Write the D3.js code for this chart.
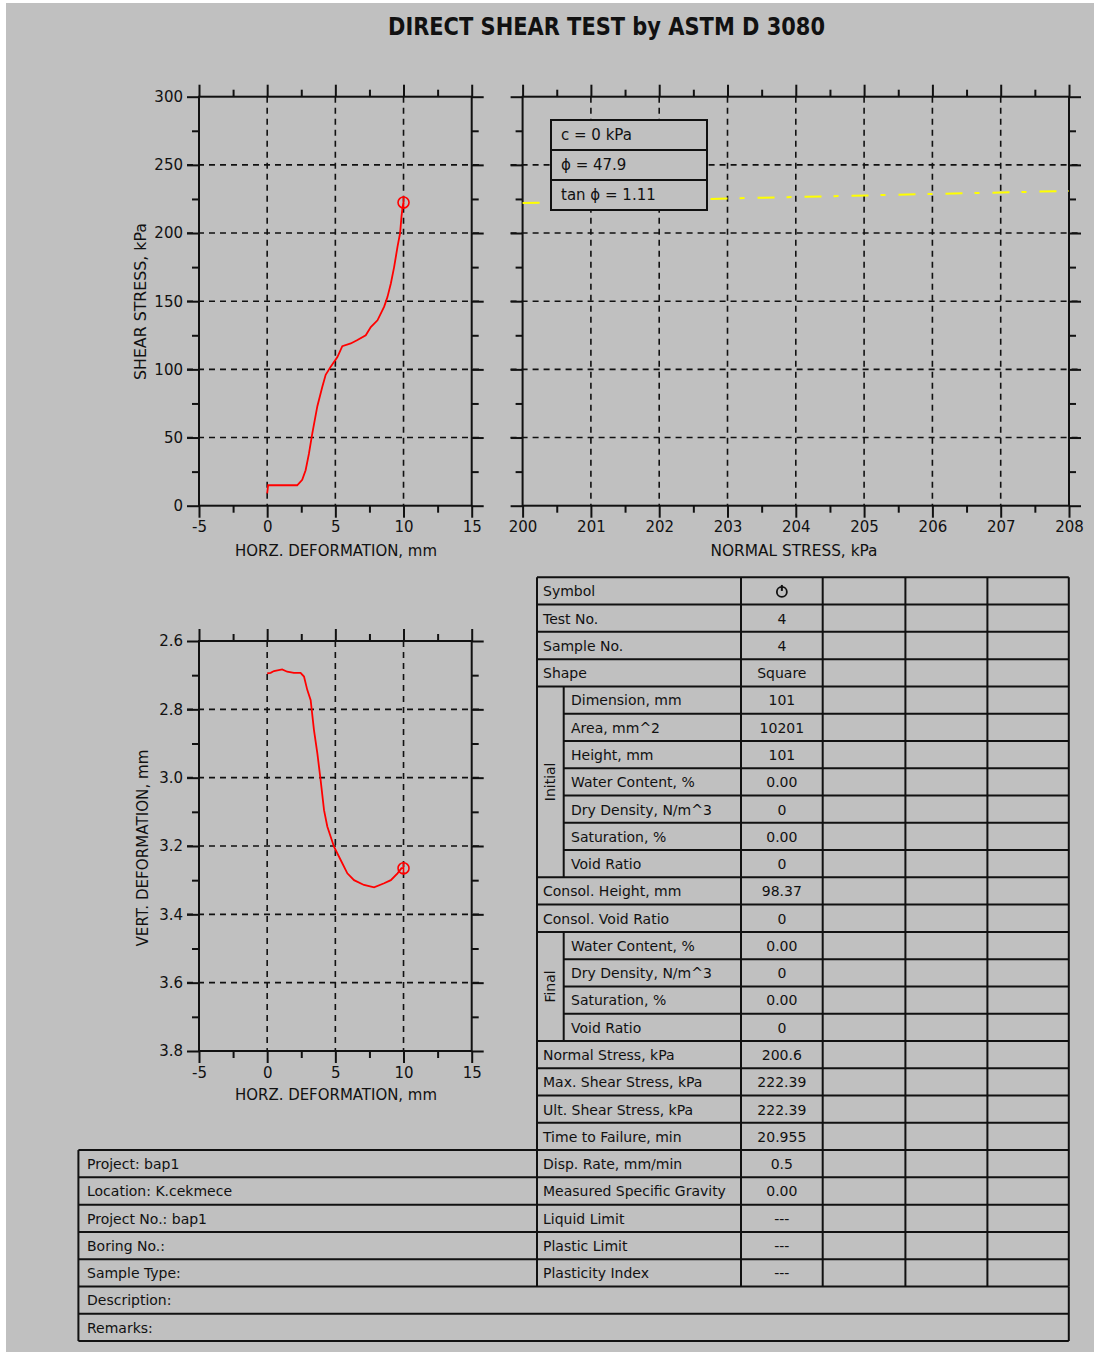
<!DOCTYPE html>
<html>
<head>
<meta charset="utf-8">
<script src="https://cdn.jsdelivr.net/npm/d3@7"></script>
<style>
  html, body { margin: 0; padding: 0; background: #ffffff; }
  svg { display: block; }
  text { font-family: "DejaVu Sans", "Liberation Sans", sans-serif; fill: #111; }
</style>
</head>
<body>
<svg id="sheet" width="1094" height="1352"></svg>
<script>
// ---- Test data -------------------------------------------------------
// Shear stress (kPa) vs horizontal deformation (mm)
const shearDefX = [0, 0.07, 2.2, 2.57, 2.82, 3.06, 3.31, 3.68, 4.04, 4.29, 4.66, 5.15, 5.51, 6.13, 6.62, 7.23, 7.6, 8.09, 8.58, 8.82, 9.07, 9.31, 9.56, 9.75, 9.85, 9.93, 10.0];
const shearStress = [9, 15, 15, 19, 26, 38, 53, 73, 87, 96, 102, 109, 117, 119, 121.5, 125, 131, 136, 146, 153, 163, 175, 190, 200, 212, 219, 222.39];

// Vertical deformation (mm) vs horizontal deformation (mm)
const vertDefX = [0, 0.25, 0.5, 1.1, 1.47, 1.96, 2.45, 2.7, 2.94, 3.19, 3.43, 3.68, 3.92, 4.17, 4.41, 4.9, 5.39, 5.88, 6.37, 7.1, 7.84, 8.58, 9.07, 9.56, 9.85, 10.0];
const vertDef = [2.695, 2.693, 2.688, 2.683, 2.69, 2.693, 2.693, 2.704, 2.743, 2.773, 2.86, 2.929, 3.007, 3.095, 3.143, 3.202, 3.241, 3.28, 3.3, 3.314, 3.321, 3.309, 3.3, 3.28, 3.265, 3.265];

// Failure point and strength parameters
const failureDefX = 10.0;
const failureVert = 3.265;
const normalStress = 200.6;
const maxShear = 222.39;
const cohesion = 0;
const phiDeg = 47.9;
const tanPhi = 1.11;

// Axis ticks
const defTicks = [-5, 0, 5, 10, 15];
const defMinor = [-2.5, 2.5, 7.5, 12.5];
const shearTicks = [0, 50, 100, 150, 200, 250, 300];
const shearMinor = [25, 75, 125, 175, 225, 275];
const normalTicks = [200, 201, 202, 203, 204, 205, 206, 207, 208];
const normalMinor = [200.5, 201.5, 202.5, 203.5, 204.5, 205.5, 206.5, 207.5];
const vertTicks = [2.6, 2.8, 3.0, 3.2, 3.4, 3.6, 3.8];
const vertMinor = [2.7, 2.9, 3.1, 3.3, 3.5, 3.7];

// Specimen table: [label, value, group]
const tableRows = [
  ["Symbol", "", ""],
  ["Test No.", "4", ""],
  ["Sample No.", "4", ""],
  ["Shape", "Square", ""],
  ["Dimension, mm", "101", "Initial"],
  ["Area, mm^2", "10201", "Initial"],
  ["Height, mm", "101", "Initial"],
  ["Water Content, %", "0.00", "Initial"],
  ["Dry Density, N/m^3", "0", "Initial"],
  ["Saturation, %", "0.00", "Initial"],
  ["Void Ratio", "0", "Initial"],
  ["Consol. Height, mm", "98.37", ""],
  ["Consol. Void Ratio", "0", ""],
  ["Water Content, %", "0.00", "Final"],
  ["Dry Density, N/m^3", "0", "Final"],
  ["Saturation, %", "0.00", "Final"],
  ["Void Ratio", "0", "Final"],
  ["Normal Stress, kPa", "200.6", ""],
  ["Max. Shear Stress, kPa", "222.39", ""],
  ["Ult. Shear Stress, kPa", "222.39", ""],
  ["Time to Failure, min", "20.955", ""],
  ["Disp. Rate, mm/min", "0.5", ""],
  ["Measured Specific Gravity", "0.00", ""],
  ["Liquid Limit", "---", ""],
  ["Plastic Limit", "---", ""],
  ["Plasticity Index", "---", ""]
];
const projectInfo = ["Project: bap1", "Location: K.cekmece", "Project No.: bap1", "Boring No.:", "Sample Type:"];
const footerRows = ["Description:", "Remarks:"];

// ---- Drawing ---------------------------------------------------------
const svg = d3.select("#sheet");
const INK = "#111";
const RED = "#ff0000";

svg.append("rect").attr("x", 6).attr("y", 3).attr("width", 1088).attr("height", 1349).attr("fill", "#c0c0c0");

svg.append("text").attr("x", 606.5).attr("y", 35).attr("text-anchor", "middle")
  .attr("font-size", 24).attr("font-weight", "bold")
  .attr("textLength", 437).attr("lengthAdjust", "spacingAndGlyphs")
  .text("DIRECT SHEAR TEST by ASTM D 3080");

const fmtInt = d => String(d);

function styleAxis(g) {
  g.select(".domain").remove();
  g.selectAll(".tick line").attr("stroke", INK).attr("stroke-width", 2);
  g.selectAll(".tick text").attr("font-size", 15).attr("fill", INK)
    .attr("font-family", "DejaVu Sans, sans-serif");
}

function panel(opts) {
  const { x, y, xTicks, xMinor, yTicks, yMinor, xFmt, yFmt, showYLabels } = opts;
  const g = svg.append("g");
  const [x0, x1] = x.range();
  const [yb, yt] = y.range();
  const top = Math.min(yb, yt), bot = Math.max(yb, yt);

  // dashed grid
  const grid = g.append("g").attr("stroke", INK).attr("stroke-width", 1.6).attr("stroke-dasharray", "6,5");
  grid.selectAll("line.v").data(xTicks.slice(1, -1)).join("line")
    .attr("x1", d => x(d)).attr("x2", d => x(d)).attr("y1", top).attr("y2", bot);
  grid.selectAll("line.h").data(yTicks.slice(1, -1)).join("line")
    .attr("x1", x0 - 12).attr("x2", x1 + 12).attr("y1", d => y(d)).attr("y2", d => y(d));

  // major & minor ticks, outward on all four sides
  const add = (axis, tx, ty) => g.append("g").attr("transform", `translate(${tx},${ty})`).call(axis).call(styleAxis);
  const bottomAx = add(d3.axisBottom(x).tickValues(xTicks).tickSize(12).tickPadding(4).tickFormat(xFmt), 0, bot);
  bottomAx.selectAll(".tick text").attr("dy", "0.72em");
  add(d3.axisBottom(x).tickValues(xMinor).tickSize(7).tickFormat(""), 0, bot);
  add(d3.axisTop(x).tickValues(xTicks).tickSize(12).tickFormat(""), 0, top);
  add(d3.axisTop(x).tickValues(xMinor).tickSize(7).tickFormat(""), 0, top);
  add(d3.axisLeft(y).tickValues(yTicks).tickSize(12).tickPadding(4).tickFormat(showYLabels ? yFmt : ""), x0, 0);
  add(d3.axisLeft(y).tickValues(yMinor).tickSize(7).tickFormat(""), x0, 0);
  add(d3.axisRight(y).tickValues(yTicks).tickSize(12).tickFormat(""), x1, 0);
  add(d3.axisRight(y).tickValues(yMinor).tickSize(7).tickFormat(""), x1, 0);

  g.append("rect").attr("x", x0).attr("y", top).attr("width", x1 - x0).attr("height", bot - top)
    .attr("fill", "none").attr("stroke", INK).attr("stroke-width", 2);
  return g;
}

function marker(g, cx, cy, r) {
  g.append("circle").attr("cx", cx).attr("cy", cy).attr("r", r)
    .attr("fill", "none").attr("stroke", RED).attr("stroke-width", 1.6);
  g.append("line").attr("x1", cx).attr("x2", cx).attr("y1", cy - r - 1).attr("y2", cy + r + 1)
    .attr("stroke", RED).attr("stroke-width", 1.6);
}

// Shear stress vs horizontal deformation
const xDef1 = d3.scaleLinear().domain([-5, 15]).range([199, 471.7]);
const yShear = d3.scaleLinear().domain([0, 300]).range([505.7, 96.7]);
const p1 = panel({ x: xDef1, y: yShear, xTicks: defTicks, xMinor: defMinor, yTicks: shearTicks, yMinor: shearMinor,
  xFmt: fmtInt, yFmt: fmtInt, showYLabels: true });
p1.append("path").datum(d3.zip(shearDefX, shearStress))
  .attr("d", d3.line().x(d => xDef1(d[0])).y(d => yShear(d[1])))
  .attr("fill", "none").attr("stroke", RED).attr("stroke-width", 1.8);
marker(p1, xDef1(failureDefX), yShear(maxShear), 5.5);
svg.append("text").attr("x", 336).attr("y", 556).attr("text-anchor", "middle").attr("font-size", 15)
  .attr("textLength", 202).attr("lengthAdjust", "spacingAndGlyphs").text("HORZ. DEFORMATION, mm");
svg.append("text").attr("transform", "translate(146,301.5) rotate(-90)").attr("text-anchor", "middle").attr("font-size", 15)
  .attr("textLength", 157).attr("lengthAdjust", "spacingAndGlyphs").text("SHEAR STRESS, kPa");

// Shear stress vs normal stress (strength envelope)
const xNormal = d3.scaleLinear().domain([200, 208]).range([522.6, 1069]);
const p2 = panel({ x: xNormal, y: yShear, xTicks: normalTicks, xMinor: normalMinor, yTicks: shearTicks, yMinor: shearMinor,
  xFmt: fmtInt, yFmt: fmtInt, showYLabels: false });
marker(p2, xNormal(normalStress), yShear(maxShear), 5.5);
const envelope = xNormal.domain().map(s => [s, cohesion + s * tanPhi]);
p2.append("path").datum(envelope)
  .attr("d", d3.line().x(d => xNormal(d[0])).y(d => yShear(d[1])))
  .attr("fill", "none").attr("stroke", "#ffff00").attr("stroke-width", 2)
  .attr("stroke-dasharray", "17,12,5,13");
svg.append("text").attr("x", 794).attr("y", 556).attr("text-anchor", "middle").attr("font-size", 15)
  .attr("textLength", 167).attr("lengthAdjust", "spacingAndGlyphs").text("NORMAL STRESS, kPa");

// Strength parameter box
const legendRows = [`c = ${cohesion} kPa`, `\u03D5 = ${phiDeg}`, `tan \u03D5 = ${tanPhi}`];
const lg = svg.append("g");
lg.append("rect").attr("x", 551).attr("y", 120).attr("width", 156).attr("height", 90)
  .attr("fill", "#c0c0c0").attr("stroke", INK).attr("stroke-width", 2);
[150, 180].forEach(yy => lg.append("line").attr("x1", 551).attr("x2", 707).attr("y1", yy).attr("y2", yy)
  .attr("stroke", INK).attr("stroke-width", 2));
legendRows.forEach((t, i) => lg.append("text").attr("x", 561).attr("y", 140 + i * 30).attr("font-size", 15).text(t));

// Vertical deformation vs horizontal deformation
const yVert = d3.scaleLinear().domain([2.6, 3.8]).range([641, 1051]);
const p3 = panel({ x: xDef1, y: yVert, xTicks: defTicks, xMinor: defMinor, yTicks: vertTicks, yMinor: vertMinor,
  xFmt: fmtInt, yFmt: d3.format(".1f"), showYLabels: true });
p3.append("path").datum(d3.zip(vertDefX, vertDef))
  .attr("d", d3.line().x(d => xDef1(d[0])).y(d => yVert(d[1])))
  .attr("fill", "none").attr("stroke", RED).attr("stroke-width", 1.8);
marker(p3, xDef1(failureDefX), yVert(failureVert), 5.5);
svg.append("text").attr("x", 336).attr("y", 1100).attr("text-anchor", "middle").attr("font-size", 15)
  .attr("textLength", 202).attr("lengthAdjust", "spacingAndGlyphs").text("HORZ. DEFORMATION, mm");
svg.append("text").attr("transform", "translate(148,848) rotate(-90)").attr("text-anchor", "middle").attr("font-size", 15)
  .attr("textLength", 197).attr("lengthAdjust", "spacingAndGlyphs").text("VERT. DEFORMATION, mm");

// ---- Specimen table --------------------------------------------------
const T = svg.append("g");
const rowY = d3.scaleLinear().domain([0, 28]).range([577.3, 1341]);
const cols = [537, 741, 822.7, 905.4, 987.4, 1068.8];
const subX = 563.7, infoX = 78.4;
const line = (x1, y1, x2, y2) => T.append("line").attr("x1", x1).attr("y1", y1).attr("x2", x2).attr("y2", y2)
  .attr("stroke", INK).attr("stroke-width", 2);

tableRows.forEach((r, i) => {
  const y0 = rowY(i), y1 = rowY(i + 1);
  const grouped = r[2] !== "";
  const tx = grouped ? 571 : 543;
  T.append("text").attr("x", tx).attr("y", y0 + 19).attr("font-size", 14).text(r[0]);
  if (r[1]) T.append("text").attr("x", (cols[1] + cols[2]) / 2).attr("y", y0 + 19)
    .attr("text-anchor", "middle").attr("font-size", 14).text(r[1]);
  // row separators: grouped rows start at the sub-column
  const prevGroup = i > 0 ? tableRows[i - 1][2] : "";
  const startX = (grouped && prevGroup === r[2]) ? subX : cols[0];
  line(startX, y0, cols[5], y0);
});
// symbol cell
const symCx = (cols[1] + cols[2]) / 2, symCy = (rowY(0) + rowY(1)) / 2;
T.append("circle").attr("cx", symCx).attr("cy", symCy + 1).attr("r", 5).attr("fill", "none").attr("stroke", INK).attr("stroke-width", 1.8);
line(symCx, symCy - 6, symCx, symCy);

// group labels and their sub-column line
["Initial", "Final"].forEach(gname => {
  const idx = tableRows.map((r, i) => r[2] === gname ? i : -1).filter(i => i >= 0);
  const ya = rowY(idx[0]), yb = rowY(idx[idx.length - 1] + 1);
  line(subX, ya, subX, yb);
  T.append("text").attr("transform", `translate(${555},${(ya + yb) / 2}) rotate(-90)`)
    .attr("text-anchor", "middle").attr("font-size", 14).text(gname);
});

// column lines
const nRows = tableRows.length;
cols.forEach(cx => line(cx, rowY(0), cx, rowY(nRows)));

// project information box
const infoStart = nRows - projectInfo.length;
projectInfo.forEach((t, k) => {
  const i = infoStart + k;
  line(infoX, rowY(i), cols[0], rowY(i));
  T.append("text").attr("x", 87).attr("y", rowY(i) + 19).attr("font-size", 14).text(t);
});
line(infoX, rowY(infoStart), infoX, rowY(28));
footerRows.forEach((t, k) => {
  const i = nRows + k;
  line(infoX, rowY(i), cols[5], rowY(i));
  T.append("text").attr("x", 87).attr("y", rowY(i) + 19).attr("font-size", 14).text(t);
});
line(infoX, rowY(28), cols[5], rowY(28));
line(cols[5], rowY(nRows), cols[5], rowY(28));
</script>
</body>
</html>
